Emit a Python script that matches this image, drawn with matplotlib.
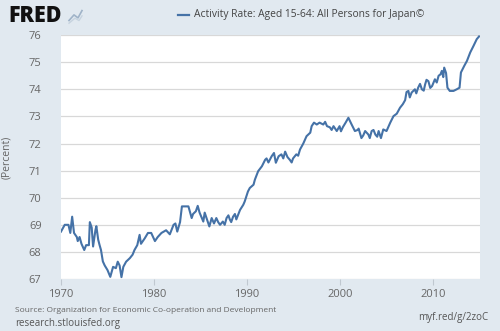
import matplotlib
matplotlib.use("Agg")
import matplotlib.pyplot as plt
from matplotlib.lines import Line2D

# series (decimal year, percent)
years = [
    1970.0, 1970.4, 1970.8, 1971.0, 1971.2, 1971.4, 1971.7, 1971.8, 1972.0, 1972.2,
    1972.5, 1972.7, 1973.0, 1973.1, 1973.3, 1973.45, 1973.7, 1973.8, 1974.0, 1974.15,
    1974.3, 1974.5, 1974.7, 1975.0, 1975.3, 1975.6, 1975.9, 1976.1, 1976.3, 1976.5,
    1976.7, 1977.0, 1977.4, 1977.7, 1977.9, 1978.2, 1978.45, 1978.6, 1979.0, 1979.35,
    1979.7, 1980.1, 1980.4, 1980.8, 1981.3, 1981.7, 1982.1, 1982.3, 1982.5, 1982.8,
    1983.0, 1983.35, 1983.7, 1984.05, 1984.2, 1984.5, 1984.7, 1984.9, 1985.3, 1985.45,
    1985.6, 1985.95, 1986.2, 1986.45, 1986.7, 1986.9, 1987.1, 1987.4, 1987.6, 1987.8,
    1988.0, 1988.15, 1988.3, 1988.5, 1988.7, 1988.85, 1989.25, 1989.6, 1989.75, 1990.1,
    1990.3, 1990.7, 1990.85, 1991.2, 1991.6, 1991.95, 1992.1, 1992.3, 1992.65, 1992.9,
    1993.1, 1993.4, 1993.7, 1993.9, 1994.1, 1994.35, 1994.6, 1994.8, 1994.95, 1995.3,
    1995.5, 1995.7, 1996.05, 1996.4, 1996.8, 1996.95, 1997.2, 1997.5, 1997.8, 1998.2,
    1998.4, 1998.6, 1998.9, 1999.1, 1999.3, 1999.65, 1999.95, 2000.1, 2000.3, 2000.6,
    2000.9, 2001.25, 2001.6, 2001.9, 2002.0, 2002.3, 2002.5, 2002.7, 2003.05, 2003.2,
    2003.4, 2003.6, 2003.8, 2004.0, 2004.15, 2004.4, 2004.65, 2005.0, 2005.4, 2005.75,
    2006.1, 2006.45, 2006.75, 2007.0, 2007.15, 2007.35, 2007.5, 2007.7, 2008.05, 2008.2,
    2008.4, 2008.6, 2008.8, 2009.0, 2009.15, 2009.3, 2009.5, 2009.7, 2009.9, 2010.2,
    2010.4, 2010.6, 2010.8, 2010.95, 2011.1, 2011.2, 2011.4, 2011.55, 2011.8, 2012.2,
    2012.55, 2012.85, 2013.0, 2013.35, 2013.65, 2014.0, 2014.35, 2014.7, 2014.95,
]
values = [
    68.75, 69.0, 69.0, 68.7, 69.3, 68.7, 68.55, 68.4, 68.55, 68.3,
    68.07, 68.25, 68.25, 69.1, 68.9, 68.2, 68.8, 68.95, 68.45, 68.25,
    68.07, 67.65, 67.5, 67.33, 67.08, 67.45, 67.4, 67.64, 67.5, 67.07,
    67.45, 67.64, 67.77, 67.9, 68.07, 68.25, 68.63, 68.3, 68.5, 68.7,
    68.7, 68.4, 68.55, 68.7, 68.8, 68.65, 69.0, 69.05, 68.75, 69.1,
    69.68, 69.68, 69.68, 69.25, 69.4, 69.5, 69.7, 69.45, 69.12, 69.45,
    69.3, 68.94, 69.25, 69.05, 69.25, 69.1, 69.0, 69.12, 69.0, 69.25,
    69.35, 69.2, 69.1, 69.3, 69.4, 69.2, 69.55, 69.74, 69.86, 70.23,
    70.36, 70.48, 70.67, 70.98, 71.16, 71.4, 71.45, 71.3, 71.53, 71.65,
    71.29, 71.53, 71.6, 71.45, 71.7, 71.5, 71.4, 71.3, 71.45, 71.6,
    71.55, 71.78, 72.0, 72.27, 72.4, 72.64, 72.77, 72.7, 72.77, 72.7,
    72.8, 72.64, 72.6, 72.5, 72.64, 72.46, 72.64, 72.45, 72.6, 72.77,
    72.95, 72.7, 72.46, 72.5, 72.55, 72.2, 72.3, 72.46, 72.33, 72.2,
    72.46, 72.5, 72.33, 72.25, 72.46, 72.2, 72.52, 72.46, 72.77, 73.01,
    73.1, 73.32, 73.45, 73.6, 73.9, 73.94, 73.7, 73.88, 74.0, 73.85,
    74.06, 74.2, 74.0, 73.95, 74.18, 74.35, 74.3, 74.05, 74.12, 74.37,
    74.25, 74.5, 74.55, 74.68, 74.45, 74.8, 74.6, 74.06, 73.94, 73.94,
    74.0, 74.06, 74.62, 74.86, 75.05, 75.36, 75.6, 75.85, 75.95,
]

x_ticks = [1970, 1980, 1990, 2000, 2010]
y_ticks = [67, 68, 69, 70, 71, 72, 73, 74, 75, 76]

title = "Activity Rate: Aged 15-64: All Persons for Japan\u00a9"
source = "Source: Organization for Economic Co-operation and Development"

BG = "#e1e9f0"
LINE = "#4572a7"
TXT = "#666666"

plt.rcParams["font.family"] = ["Open Sans", "DejaVu Sans"]

fig = plt.figure(figsize=(5, 3.31), dpi=100, facecolor=BG)
ax = fig.add_axes([0.122, 0.157, 0.838, 0.737])
ax.set_facecolor("white")

ax.plot(years, values, color=LINE, lw=1.5)

ax.set_xlim(1970, 2015.05)
ax.set_ylim(67, 76)
ax.set_xticks(x_ticks)
ax.set_yticks(y_ticks)
ax.grid(axis="y", color="#d8d8d8", lw=0.9)
ax.set_axisbelow(True)
for s in ax.spines.values():
    s.set_visible(False)
ax.tick_params(axis="y", length=0, pad=14, labelsize=8, labelcolor=TXT)
ax.tick_params(axis="x", length=4, color="#c0c8d0", pad=3, labelsize=8, labelcolor=TXT)
ax.set_ylabel("(Percent)", fontsize=7.5, color=TXT, labelpad=12)

# header: logo and legend line
fig.text(0.016, 0.952, "FRED", fontsize=15.5, fontweight="black", color="#111111",
         va="center", ha="left")
fig.add_artist(Line2D([0.138, 0.148, 0.156, 0.164], [0.938, 0.955, 0.946, 0.968],
                      color="#9fb3c8", lw=1.2, transform=fig.transFigure))
fig.add_artist(Line2D([0.138, 0.150, 0.158, 0.164], [0.930, 0.945, 0.938, 0.952],
                      color="#c6d3df", lw=1.0, transform=fig.transFigure))
fig.add_artist(Line2D([0.356, 0.378], [0.955, 0.955], color=LINE, lw=1.6,
                      transform=fig.transFigure))
fig.text(0.388, 0.955, title, fontsize=7.4, color="#444444", va="center", ha="left")

# footer
fig.text(0.03, 0.062, source, fontsize=6, color=TXT, va="center")
fig.text(0.03, 0.022, "research.stlouisfed.org", fontsize=7, color="#555555", va="center")
fig.text(0.976, 0.04, "myf.red/g/2zoC", fontsize=7, color="#555555", va="center", ha="right")

fig.savefig("out.png", dpi=100, facecolor=BG)
